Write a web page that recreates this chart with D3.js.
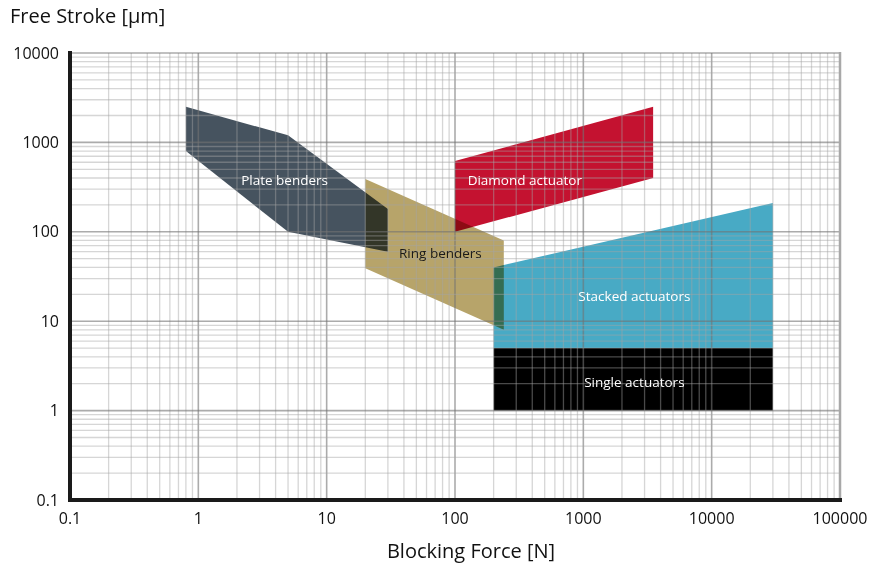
<!DOCTYPE html>
<html>
<head>
<meta charset="utf-8">
<script src="https://cdn.jsdelivr.net/npm/d3@7"></script>
<style>
  body { margin: 0; background: #fff; }
  svg text { font-family: "Open Sans", "DejaVu Sans", sans-serif; }
  .shape { mix-blend-mode: multiply; }
</style>
</head>
<body>
<div id="chart"></div>
<script>
// actuator families, outline points as [blocking force N, free stroke um]
var categories = ["Single actuators", "Plate benders", "Ring benders", "Diamond actuator", "Stacked actuators"];
var outlines = [
  [[200, 5], [30000, 5], [30000, 1], [200, 1]],
  [[0.8, 2500], [5, 1200], [30, 180], [30, 60], [5, 100], [0.8, 800]],
  [[20, 390], [240, 80], [240, 8], [20, 39]],
  [[100, 620], [3500, 2500], [3500, 400], [100, 100]],
  [[200, 40], [30000, 210], [30000, 5], [200, 5]]
];
// where each name sits, same units
var labelAt = [[2500, 2.1], [4.7, 380], [77, 58], [350, 380], [2500, 19]];
var fills = ["#000000", "#46535f", "#b7a46a", "#c41230", "#48aac5"];
var textColors = ["#fff", "#fff", "#1a1a1a", "#fff", "#fff"];

var xTicks = [0.1, 1, 10, 100, 1000, 10000, 100000];
var yTicks = [0.1, 1, 10, 100, 1000, 10000];

var width = 878, height = 569;
var svg = d3.select('#chart').append('svg')
  .attr('width', width)
  .attr('height', height);

var x = d3.scaleLog().domain([0.1, 100000]).range([70, 840]);
var y = d3.scaleLog().domain([0.1, 10000]).range([500, 53]);

var line = d3.line()
  .x(function(d) { return x(d[0]); })
  .y(function(d) { return y(d[1]); });

// shapes
svg.append('g').selectAll('path')
  .data(outlines)
  .enter().append('path')
  .attr('class', 'shape')
  .attr('d', function(d) { return line(d) + 'Z'; })
  .attr('fill', function(d, i) { return fills[i]; });

// grid goes over the shapes
function isMajor(v) {
  var l = Math.log10(v);
  return Math.abs(l - Math.round(l)) < 1e-6;
}
var majorCol = 'rgba(115,115,115,0.6)', minorCol = 'rgba(165,165,165,0.45)';
var grid = svg.append('g');
grid.selectAll('.vx')
  .data(x.ticks())
  .enter().append('line')
  .attr('x1', function(d) { return x(d); })
  .attr('x2', function(d) { return x(d); })
  .attr('y1', y(0.1))
  .attr('y2', y(10000))
  .attr('stroke', function(d) { return isMajor(d) ? majorCol : minorCol; })
  .attr('stroke-width', function(d) { return isMajor(d) ? 1.6 : 1.3; });
grid.selectAll('.hy')
  .data(y.ticks())
  .enter().append('line')
  .attr('y1', function(d) { return y(d); })
  .attr('y2', function(d) { return y(d); })
  .attr('x1', x(0.1))
  .attr('x2', x(100000))
  .attr('stroke', function(d) { return isMajor(d) ? majorCol : minorCol; })
  .attr('stroke-width', function(d) { return isMajor(d) ? 1.6 : 1.3; });

// right border a bit heavier
svg.append('line')
  .attr('x1', x(100000)).attr('x2', x(100000))
  .attr('y1', y(10000) - 1).attr('y2', y(0.1))
  .attr('stroke', '#a8a8a8')
  .attr('stroke-width', 2.5);

// axis lines
svg.append('line')
  .attr('x1', x(0.1)).attr('x2', x(0.1))
  .attr('y1', y(10000) - 2).attr('y2', y(0.1) + 2)
  .attr('stroke', '#1a1a1a')
  .attr('stroke-width', 4);
svg.append('line')
  .attr('x1', x(0.1) - 2).attr('x2', x(100000) + 2)
  .attr('y1', y(0.1)).attr('y2', y(0.1))
  .attr('stroke', '#1a1a1a')
  .attr('stroke-width', 4);

// labels inside shapes
svg.append('g').selectAll('text')
  .data(categories)
  .enter().append('text')
  .attr('x', function(d, i) { return x(labelAt[i][0]); })
  .attr('y', function(d, i) { return y(labelAt[i][1]); })
  .attr('dy', '0.35em')
  .attr('text-anchor', 'middle')
  .attr('font-size', 13.5)
  .attr('fill', function(d, i) { return textColors[i]; })
  .text(function(d) { return d; });

// tick labels
var fmt = function(d) { return d < 1 ? '0.1' : String(d); };
svg.append('g').selectAll('text')
  .data(xTicks)
  .enter().append('text')
  .attr('x', function(d) { return x(d); })
  .attr('y', 518)
  .attr('dy', '0.35em')
  .attr('text-anchor', 'middle')
  .attr('font-size', 16)
  .attr('fill', '#111')
  .text(fmt);
svg.append('g').selectAll('text')
  .data(yTicks)
  .enter().append('text')
  .attr('x', 59)
  .attr('y', function(d) { return y(d); })
  .attr('dy', '0.35em')
  .attr('text-anchor', 'end')
  .attr('font-size', 16)
  .attr('fill', '#111')
  .text(fmt);

// axis titles
svg.append('text')
  .attr('x', 10)
  .attr('y', 23)
  .attr('font-size', 20)
  .attr('fill', '#111')
  .text('Free Stroke [\u03bcm]');
svg.append('text')
  .attr('x', 471)
  .attr('y', 558)
  .attr('text-anchor', 'middle')
  .attr('font-size', 20)
  .attr('fill', '#111')
  .text('Blocking Force [N]');
</script>
</body>
</html>
